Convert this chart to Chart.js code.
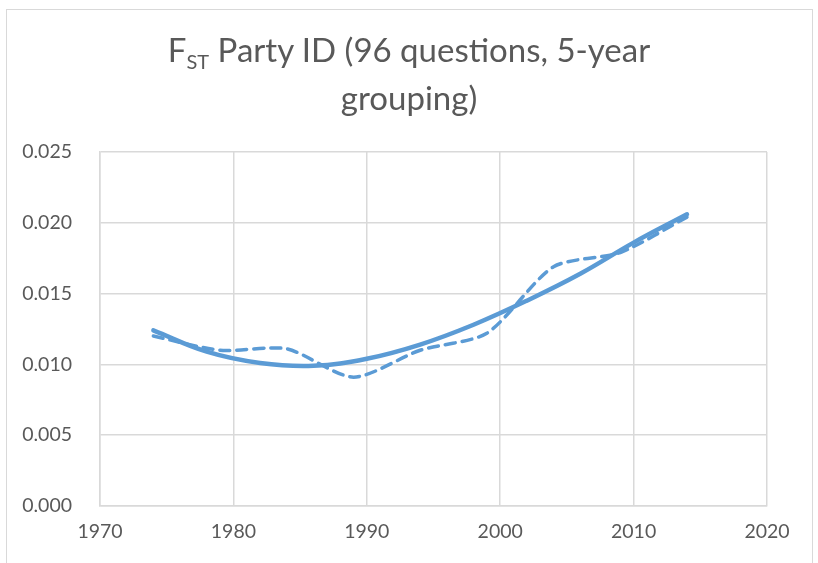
<!DOCTYPE html>
<html>
<head>
<meta charset="utf-8">
<script src="https://cdn.jsdelivr.net/npm/chart.js@4.4.1/dist/chart.umd.min.js"></script>
<style>
  html, body { margin: 0; padding: 0; background: #fff; }
  #wrap { position: relative; width: 818px; height: 563px; overflow: hidden; }
  #frame { position: absolute; left: 6px; top: 9px; width: 805px; height: 600px; border: 1px solid #d9d9d9; }
  #titulo {
    position: absolute; left: 0; top: 25px; width: 818px; text-align: center;
    font-family: Lato, sans-serif; font-size: 33px; line-height: 48px; color: #595959;
  }
  #titulo sub { font-size: 20px; vertical-align: -7px; line-height: 0; }
  canvas { position: absolute; left: 0; top: 0; }
</style>
</head>
<body>
<div id="wrap">
  <div id="frame"></div>
  <canvas id="grafico" width="818" height="563"></canvas>
  <div id="titulo">F<sub>ST</sub> Party ID (96 questions, 5-year<br>grouping)</div>
</div>
<script>
// Datos
const anios = [1974, 1979, 1984, 1989, 1994, 1999, 2004, 2009, 2014];
const fst = [0.0120, 0.0110, 0.0111, 0.0091, 0.0110, 0.0122, 0.0169, 0.0179, 0.0204];

// Línea de tendencia
const aniosTend = [1974, 1978, 1982, 1986, 1990, 1994, 1998, 2002, 2006, 2010, 2014];
const fstTend = [0.0124, 0.0109, 0.0101, 0.0099, 0.0104, 0.0114, 0.0128, 0.0145, 0.0164, 0.0186, 0.0206];

const ticksX = [1970, 1980, 1990, 2000, 2010, 2020];
const ticksY = [0, 0.005, 0.010, 0.015, 0.020, 0.025];

const azul = '#5b9bd5';
const gris = '#595959';
const rejilla = '#d9d9d9';

const ctx = document.getElementById('grafico').getContext('2d');

new Chart(ctx, {
  type: 'scatter',
  data: {
    datasets: [
      {
        label: 'Tendencia',
        data: aniosTend.map((a, i) => ({ x: a, y: fstTend[i] })),
        showLine: true,
        borderColor: azul,
        borderWidth: 4.5,
        pointRadius: 0,
        tension: 0.4,
        borderCapStyle: 'round'
      },
      {
        label: 'FST',
        data: anios.map((a, i) => ({ x: a, y: fst[i] })),
        showLine: true,
        borderColor: azul,
        borderWidth: 3.5,
        borderDash: [10, 7],
        borderCapStyle: 'round',
        pointRadius: 0,
        tension: 0.25
      }
    ]
  },
  options: {
    responsive: false,
    animation: false,
    layout: { padding: { top: 152, left: 0, right: 51, bottom: 0 } },
    plugins: {
      legend: { display: false },
      title: { display: false },
      tooltip: { enabled: false }
    },
    scales: {
      x: {
        type: 'linear',
        min: 1970,
        max: 2020,
        afterBuildTicks: s => { s.ticks = ticksX.map(v => ({ value: v })); },
        afterFit: s => { s.height = 57; },
        ticks: {
          color: gris,
          padding: 14,
          font: { family: 'Lato, sans-serif', size: 19.5 },
          callback: v => String(v)
        },
        grid: { color: rejilla, lineWidth: 1.5, drawTicks: false },
        border: { color: rejilla, width: 1.5 }
      },
      y: {
        min: 0,
        max: 0.025,
        afterBuildTicks: s => { s.ticks = ticksY.map(v => ({ value: v })); },
        afterFit: s => { s.width = 100; },
        ticks: {
          color: gris,
          padding: 28,
          font: { family: 'Lato, sans-serif', size: 19.5 },
          callback: v => Number(v).toFixed(3)
        },
        grid: { color: rejilla, lineWidth: 1.5, drawTicks: false },
        border: { color: rejilla, width: 1.5 }
      }
    }
  }
});
</script>
</body>
</html>
